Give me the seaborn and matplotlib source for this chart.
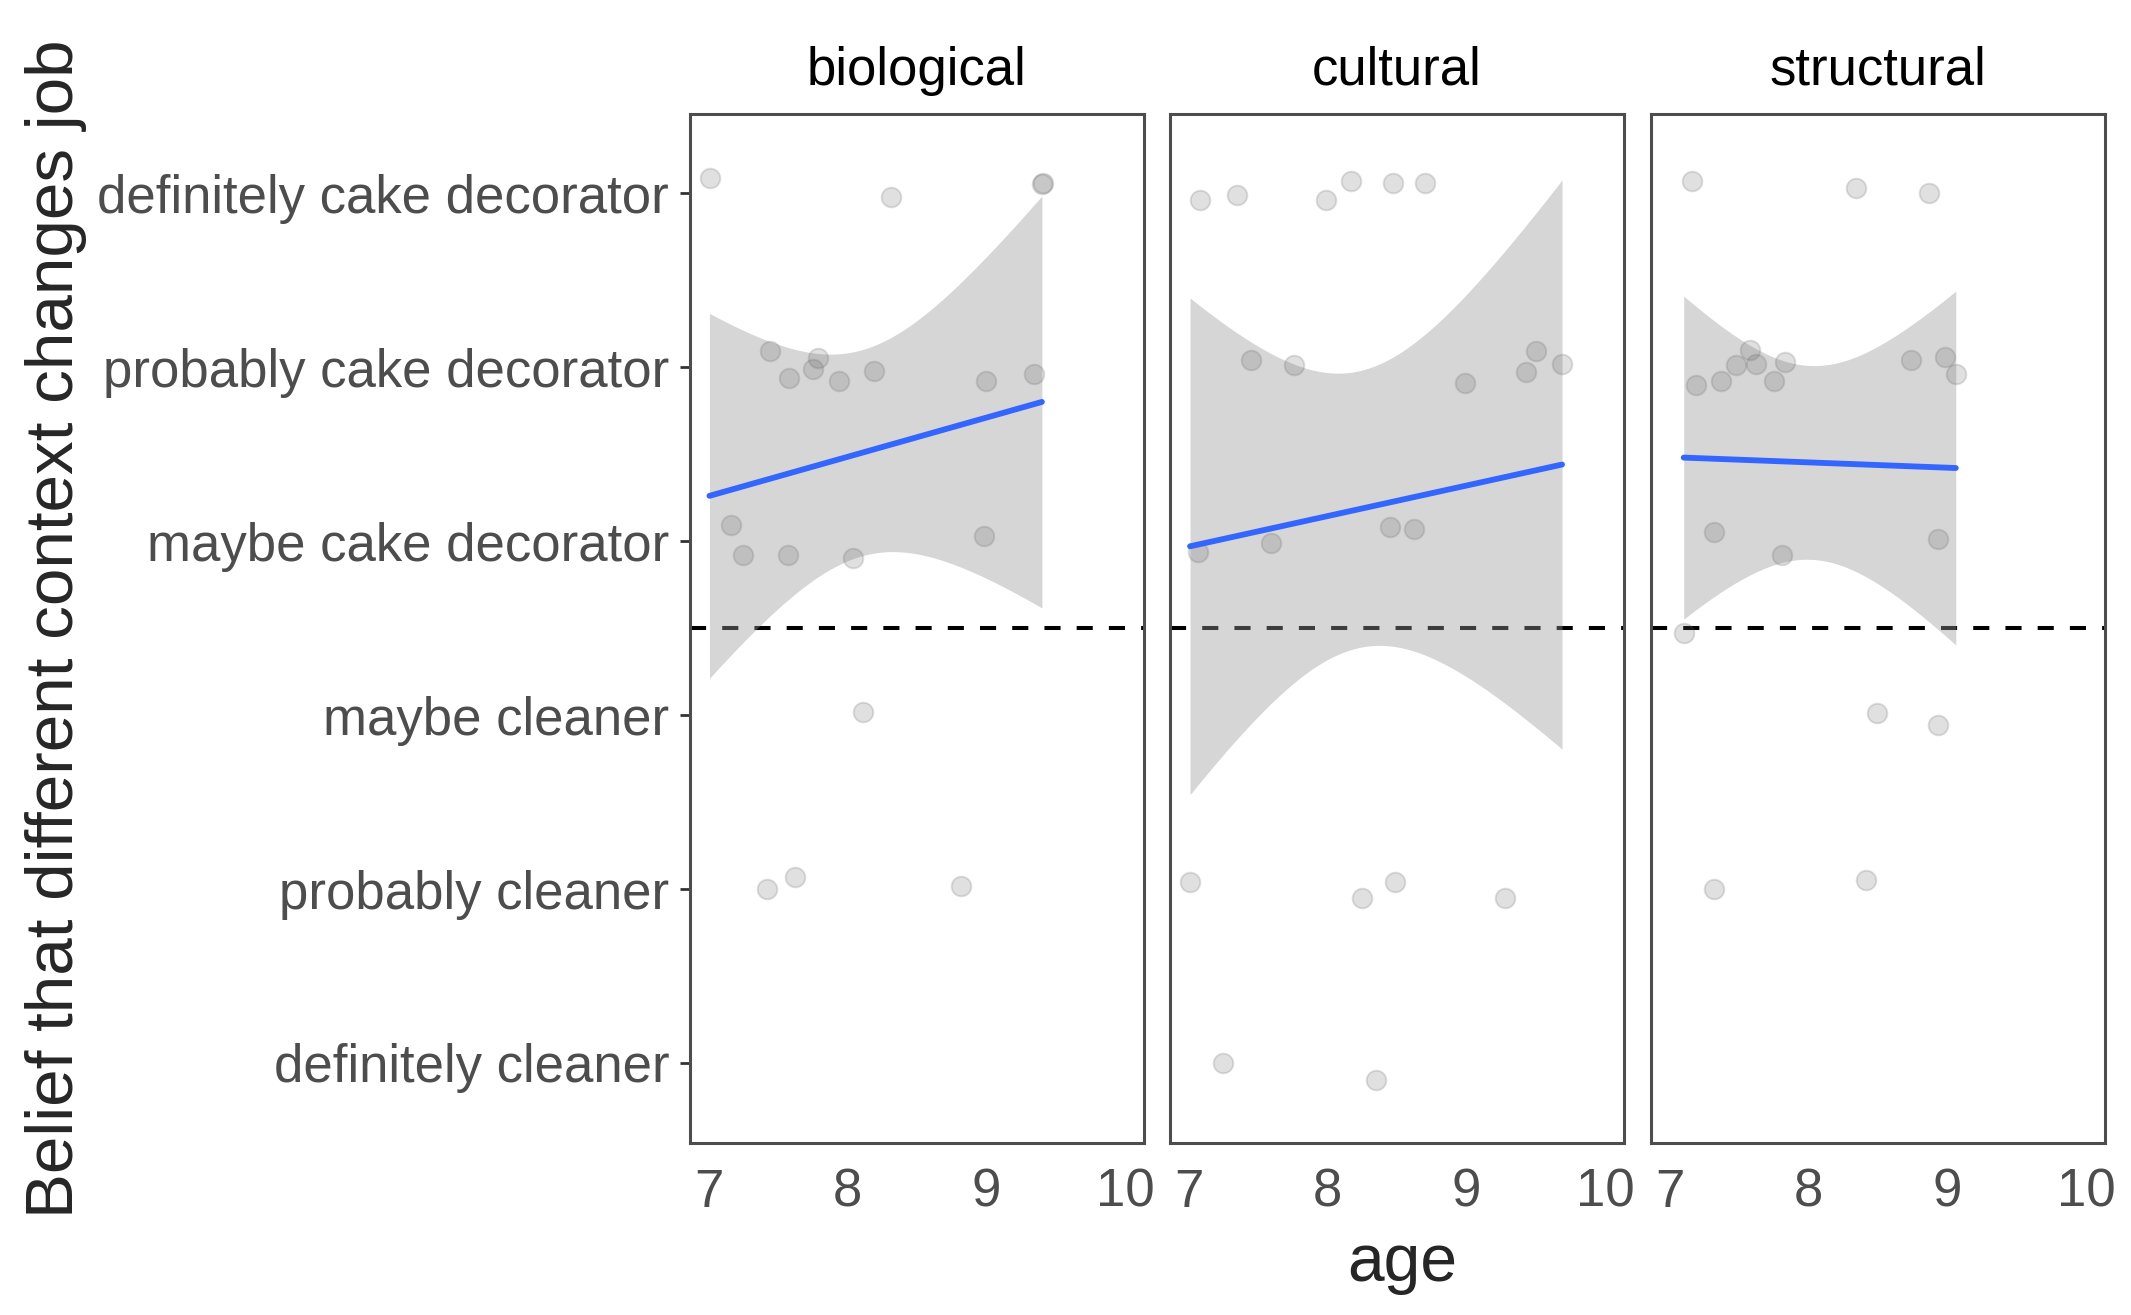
import numpy as np
import pandas as pd
import seaborn as sns
import matplotlib.pyplot as plt

# belief levels, bottom to top (coded 1..6)
belief_levels = ['definitely cleaner', 'probably cleaner', 'maybe cleaner',
                 'maybe cake decorator', 'probably cake decorator', 'definitely cake decorator']
contexts = ['biological', 'cultural', 'structural']

# jittered points
bio_age = [7.01, 8.31, 9.40, 9.41, 7.44, 7.58, 7.75, 7.79, 7.94, 8.19, 9.00, 9.34,
           7.16, 7.25, 7.57, 8.04, 8.98, 8.11, 7.42, 7.62, 8.82]
bio_belief = [6.09, 5.98, 6.05, 6.06, 5.09, 4.94, 4.99, 5.05, 4.92, 4.98, 4.92, 4.96,
              4.09, 3.92, 3.92, 3.90, 4.03, 3.02, 2.00, 2.07, 2.02]

cul_age = [7.08, 7.35, 7.99, 8.17, 8.47, 8.70, 7.45, 7.76, 8.99, 9.43, 9.50, 9.69,
           7.07, 7.59, 8.45, 8.62, 7.01, 8.25, 8.49, 9.28, 7.25, 8.35]
cul_belief = [5.96, 5.99, 5.96, 6.07, 6.06, 6.06, 5.04, 5.01, 4.91, 4.97, 5.09, 5.02,
              3.94, 3.99, 4.08, 4.07, 2.04, 1.95, 2.04, 1.95, 1.00, 0.90]

str_age = [7.16, 8.34, 8.87, 7.19, 7.37, 7.48, 7.58, 7.62, 7.75, 7.83, 8.74, 8.98,
           9.06, 7.32, 7.81, 8.93, 7.10, 8.49, 8.93, 7.32, 8.41]
str_belief = [6.07, 6.03, 6.00, 4.90, 4.92, 5.01, 5.10, 5.02, 4.92, 5.03, 5.04, 5.06,
              4.96, 4.05, 3.92, 4.01, 3.47, 3.01, 2.94, 2.00, 2.05]

# lm line as drawn in the picture: (age, belief) at both ends
fit_age = {'biological': [7.005, 9.40], 'cultural': [7.01, 9.69], 'structural': [7.10, 9.06]}
fit_belief = {'biological': [4.26, 4.80], 'cultural': [3.97, 4.44], 'structural': [4.48, 4.42]}

df = pd.concat([
    pd.DataFrame({'age': bio_age, 'belief': bio_belief, 'context': 'biological'}),
    pd.DataFrame({'age': cul_age, 'belief': cul_belief, 'context': 'cultural'}),
    pd.DataFrame({'age': str_age, 'belief': str_belief, 'context': 'structural'}),
])

# t quantiles for 95% CI (like geom_smooth(method = "lm"))
T975 = {19: 2.093, 20: 2.086}

sns.set_style('white')
plt.rcParams['font.family'] = ['Liberation Sans', 'DejaVu Sans']

fig = plt.figure(figsize=(21.31, 13.15), dpi=100)
lefts = [0.3238, 0.5490, 0.7748]
axes = [fig.add_axes([l, 0.1308, 0.2130, 0.7825]) for l in lefts]

for ax, ctx in zip(axes, contexts):
    d = df[df['context'] == ctx]
    x = d['age'].to_numpy()
    y = d['belief'].to_numpy()
    n = len(x)

    # line from the read ends, band width from the spread of the points
    b1, b0 = np.polyfit(fit_age[ctx], fit_belief[ctx], 1)
    resid = y - (b0 + b1 * x)
    s = np.sqrt(np.sum(resid ** 2) / (n - 2))
    xg = np.linspace(fit_age[ctx][0], fit_age[ctx][1], 80)
    yg = b0 + b1 * xg
    se = s * np.sqrt(1 / n + (xg - x.mean()) ** 2 / np.sum((x - x.mean()) ** 2))
    t = T975[n - 2]
    fit = pd.DataFrame({'age': xg, 'belief': yg})

    ax.axhline(3.5, color='black', linewidth=2.9, linestyle=(0, (4, 4)), zorder=0.5)
    ax.fill_between(xg, yg - t * se, yg + t * se, color='#999999', alpha=0.4,
                    linewidth=0, zorder=1)
    sns.scatterplot(data=d, x='age', y='belief', ax=ax, s=200, color='#646464',
                    alpha=0.2, edgecolor='#646464', linewidth=1.4, zorder=2)
    sns.lineplot(data=fit, x='age', y='belief', ax=ax, color='#3366FF',
                 linewidth=4.2, zorder=3)

    ax.set_xlim(6.865, 10.135)
    ax.set_ylim(0.54, 6.455)
    ax.set_xticks([7, 8, 9, 10])
    ax.set_xticklabels(['7', '8', '9', '10'])
    ax.set_yticks(range(1, 7))
    ax.set_xlabel('')
    ax.set_ylabel('')
    ax.tick_params(axis='x', length=0, pad=18, labelsize=38, labelcolor='#4d4d4d')
    ax.tick_params(axis='y', length=7, width=2, color='#333333', pad=8,
                   labelsize=38, labelcolor='#4d4d4d', left=True)
    for sp in ax.spines.values():
        sp.set_color('#4d4d4d')
        sp.set_linewidth(2.2)
    ax.text(0.5, 1.042, ctx, transform=ax.transAxes, ha='center', va='center',
            fontsize=38, color='black')

axes[0].set_yticklabels(belief_levels)
for ax in axes[1:]:
    ax.set_yticklabels([])
    ax.tick_params(axis='y', length=0)

fig.text(0.658, 0.0388, 'age', ha='center', va='center', fontsize=47.5)
fig.text(0.0265, 0.522, 'Belief that different context changes job', rotation=90,
         ha='center', va='center', fontsize=48.5)

fig.savefig('out.png', dpi=100)
